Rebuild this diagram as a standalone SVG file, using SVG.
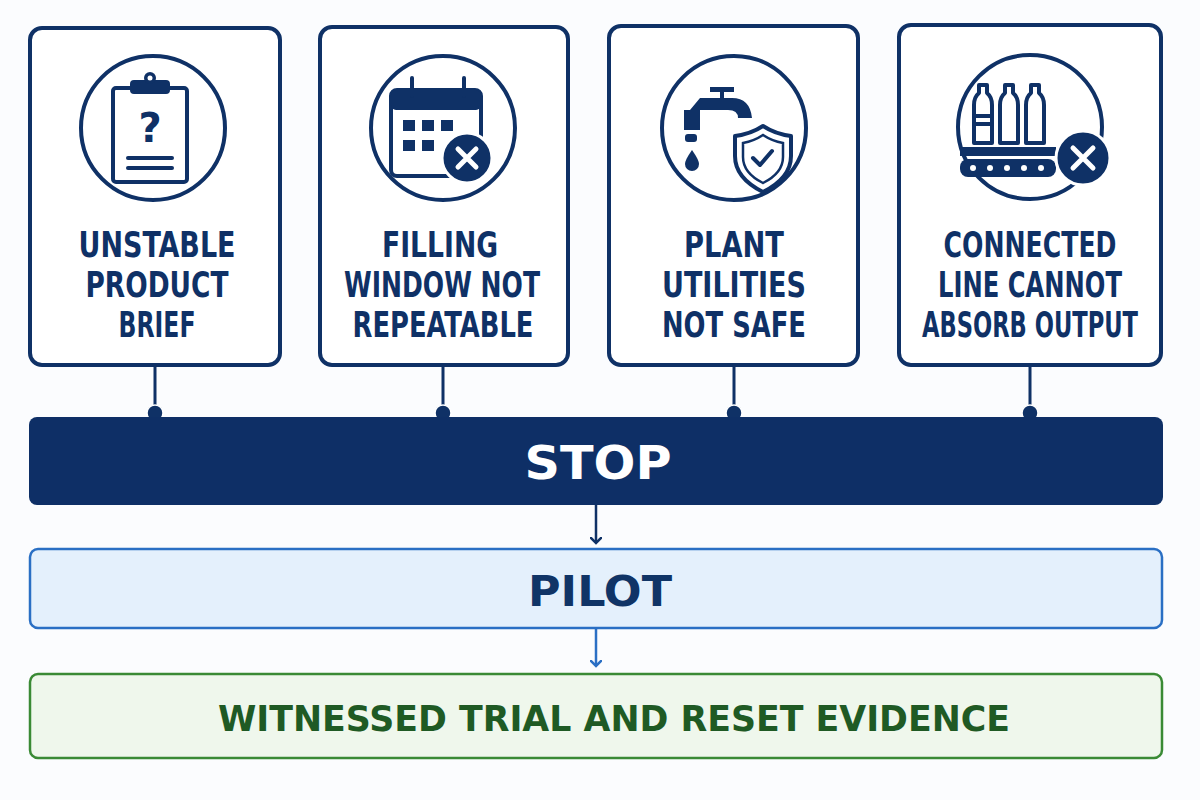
<svg xmlns="http://www.w3.org/2000/svg" width="1200" height="800" viewBox="0 0 1200 800">
<style>
.card{fill:#fff;stroke:#0f3166;stroke-width:4}
.ring{fill:#fff;stroke:#0f3166;stroke-width:4}
.ic{fill:none;stroke:#0f3166;stroke-width:4;stroke-linecap:round;stroke-linejoin:round}
.icf{fill:#0f3166}
.lbl{font-family:"DejaVu Sans Condensed","DejaVu Sans",sans-serif;font-weight:bold;font-size:36px;fill:#0f3166;text-anchor:middle}
.big{font-family:"DejaVu Sans","Liberation Sans",sans-serif;font-weight:bold;text-anchor:middle}
.stem{stroke:#0f3166;stroke-width:3}
</style>
<defs>
<marker id="ad" markerWidth="12" markerHeight="12" refX="6" refY="6" orient="auto" markerUnits="userSpaceOnUse"><path d="M0,0 L6,6 L0,12" fill="none" stroke="#0f3166" stroke-width="2.5"/></marker>
<marker id="ab" markerWidth="12" markerHeight="12" refX="6" refY="6" orient="auto" markerUnits="userSpaceOnUse"><path d="M0,0 L6,6 L0,12" fill="none" stroke="#2a6fc4" stroke-width="2.5"/></marker>
</defs>
<rect width="1200" height="800" fill="#fbfcfe"/>
<g id="connectors">
<line class="stem" x1="155" y1="365" x2="155" y2="413"/>
<line class="stem" x1="443" y1="365" x2="443" y2="413"/>
<line class="stem" x1="734" y1="365" x2="734" y2="413"/>
<line class="stem" x1="1030" y1="365" x2="1030" y2="413"/>
<circle cx="155" cy="413" r="8" class="icf" stroke="#fff" stroke-width="1.5"/>
<circle cx="443" cy="413" r="8" class="icf" stroke="#fff" stroke-width="1.5"/>
<circle cx="734" cy="413" r="8" class="icf" stroke="#fff" stroke-width="1.5"/>
<circle cx="1030" cy="413" r="8" class="icf" stroke="#fff" stroke-width="1.5"/>
<line x1="596" y1="505" x2="596" y2="543" stroke="#0f3166" stroke-width="2.5" marker-end="url(#ad)"/>
<line x1="596" y1="629" x2="596" y2="666" stroke="#2a6fc4" stroke-width="2.5" marker-end="url(#ab)"/>
</g>
<g id="card1">
<rect class="card" x="30" y="28" width="250" height="337" rx="12"/>
<circle class="ring" cx="153" cy="128" r="72"/>
<rect class="ic" x="113" y="88" width="74" height="94" rx="3"/>
<rect class="icf" x="130" y="80" width="40" height="14" rx="4"/>
<circle class="icf" cx="150" cy="78" r="6"/><circle cx="150" cy="78" r="2.5" fill="#fff"/>
<text x="150" y="142" font-family="DejaVu Sans,sans-serif" font-weight="bold" font-size="40" fill="#0f3166" text-anchor="middle">?</text>
<line class="ic" x1="128" y1="158" x2="172" y2="158"/><line class="ic" x1="128" y1="168" x2="172" y2="168"/>
<text class="lbl" x="157" y="257" textLength="157" lengthAdjust="spacingAndGlyphs">UNSTABLE</text>
<text class="lbl" x="157" y="297" textLength="143" lengthAdjust="spacingAndGlyphs">PRODUCT</text>
<text class="lbl" x="157" y="337" textLength="77" lengthAdjust="spacingAndGlyphs">BRIEF</text>
</g>
<g id="card2">
<rect class="card" x="320" y="27" width="248" height="338" rx="12"/>
<circle class="ring" cx="443" cy="128" r="72"/>
<rect class="ic" x="391" y="90" width="90" height="86" rx="6"/>
<rect class="icf" x="391" y="90" width="90" height="20" rx="5"/>
<line class="ic" x1="412" y1="78" x2="412" y2="96"/><line class="ic" x1="464" y1="78" x2="464" y2="96"/>
<g class="icf"><rect x="403" y="120" width="12" height="11"/><rect x="422" y="120" width="12" height="11"/><rect x="441" y="120" width="12" height="11"/><rect x="403" y="140" width="12" height="11"/><rect x="422" y="140" width="12" height="11"/></g>
<circle cx="467" cy="158" r="25" class="icf" stroke="#fff" stroke-width="3"/>
<path d="M458,149 L476,167 M476,149 L458,167" stroke="#fff" stroke-width="5" stroke-linecap="round"/>
<text class="lbl" x="440" y="257" textLength="116" lengthAdjust="spacingAndGlyphs">FILLING</text>
<text class="lbl" x="442" y="297" textLength="196" lengthAdjust="spacingAndGlyphs">WINDOW NOT</text>
<text class="lbl" x="443" y="337" textLength="181" lengthAdjust="spacingAndGlyphs">REPEATABLE</text>
</g>
<g id="card3">
<rect class="card" x="609" y="26" width="249" height="339" rx="12"/>
<circle class="ring" cx="734" cy="128" r="72"/>
<path class="icf" d="M700,98 h20 v-6 h-10 v-5 h24 v5 h-10 v6 h8 q18,0 20,20 h-14 q0,-8 -10,-8 h-38 z"/>
<path class="icf" d="M684,110 h16 v20 h-16 z"/>
<rect class="icf" x="685" y="134" width="12" height="8" rx="3"/>
<path class="icf" d="M692,150 q-7,10 -7,14 a7,7 0 0 0 14,0 q0,-4 -7,-14z"/>
<path d="M763,126 q12,8 28,10 v20 q0,22 -28,36 q-28,-14 -28,-36 v-20 q16,-2 28,-10z" fill="#fff" stroke="#0f3166" stroke-width="4" stroke-linejoin="round"/>
<path d="M763,135 q9,6 20,8 v14 q0,16 -20,26 q-20,-10 -20,-26 v-14 q11,-2 20,-8z" fill="none" stroke="#0f3166" stroke-width="2.5"/>
<path class="ic" d="M753,158 l7,7 l12,-14"/>
<text class="lbl" x="734" y="257" textLength="100" lengthAdjust="spacingAndGlyphs">PLANT</text>
<text class="lbl" x="734" y="297" textLength="144" lengthAdjust="spacingAndGlyphs">UTILITIES</text>
<text class="lbl" x="734" y="337" textLength="144" lengthAdjust="spacingAndGlyphs">NOT SAFE</text>
</g>
<g id="card4">
<rect class="card" x="899" y="25" width="262" height="340" rx="12"/>
<circle class="ring" cx="1030" cy="127" r="72"/>
<g class="ic" stroke-width="3.5">
<path d="M974,143 v-38 q0,-8 5,-12 v-8 h8 v8 q5,4 5,12 v38z"/>
<path d="M1000,143 v-38 q0,-8 5,-12 v-8 h8 v8 q5,4 5,12 v38z"/>
<path d="M1026,143 v-38 q0,-8 5,-12 v-8 h8 v8 q5,4 5,12 v38z"/>
<line x1="974" y1="116" x2="992" y2="116"/><line x1="974" y1="124" x2="992" y2="124"/>
</g>
<rect class="icf" x="960" y="147" width="96" height="9"/>
<rect class="icf" x="960" y="159" width="96" height="18" rx="8"/>
<g fill="#fff"><circle cx="973" cy="168" r="3"/><circle cx="990" cy="168" r="3"/><circle cx="1007" cy="168" r="3"/><circle cx="1024" cy="168" r="3"/><circle cx="1041" cy="168" r="3"/></g>
<circle cx="1083" cy="158" r="27" class="icf" stroke="#fff" stroke-width="3"/>
<path d="M1073,148 L1093,168 M1093,148 L1073,168" stroke="#fff" stroke-width="5" stroke-linecap="round"/>
<text class="lbl" x="1030" y="257" textLength="173" lengthAdjust="spacingAndGlyphs">CONNECTED</text>
<text class="lbl" x="1030" y="297" textLength="184" lengthAdjust="spacingAndGlyphs">LINE CANNOT</text>
<text class="lbl" x="1030" y="337" textLength="216" lengthAdjust="spacingAndGlyphs">ABSORB OUTPUT</text>
</g>
<g id="stop">
<rect x="29" y="417" width="1134" height="88" rx="8" fill="#0e2f66"/>
<text class="big" x="598" y="479" font-size="46" fill="#fff" textLength="147" lengthAdjust="spacingAndGlyphs">STOP</text>
</g>
<g id="pilot">
<rect x="30" y="549" width="1132" height="79" rx="8" fill="#e4f0fc" stroke="#2a6fc4" stroke-width="2.5"/>
<text class="big" x="600" y="606" font-size="42" fill="#103466" textLength="144" lengthAdjust="spacingAndGlyphs">PILOT</text>
</g>
<g id="evidence">
<rect x="30" y="674" width="1132" height="84" rx="8" fill="#eff7ec" stroke="#3a8a35" stroke-width="2.5"/>
<text class="big" x="614" y="731" font-size="36" fill="#1f5a24" textLength="792" lengthAdjust="spacingAndGlyphs">WITNESSED TRIAL AND RESET EVIDENCE</text>
</g>
</svg>
